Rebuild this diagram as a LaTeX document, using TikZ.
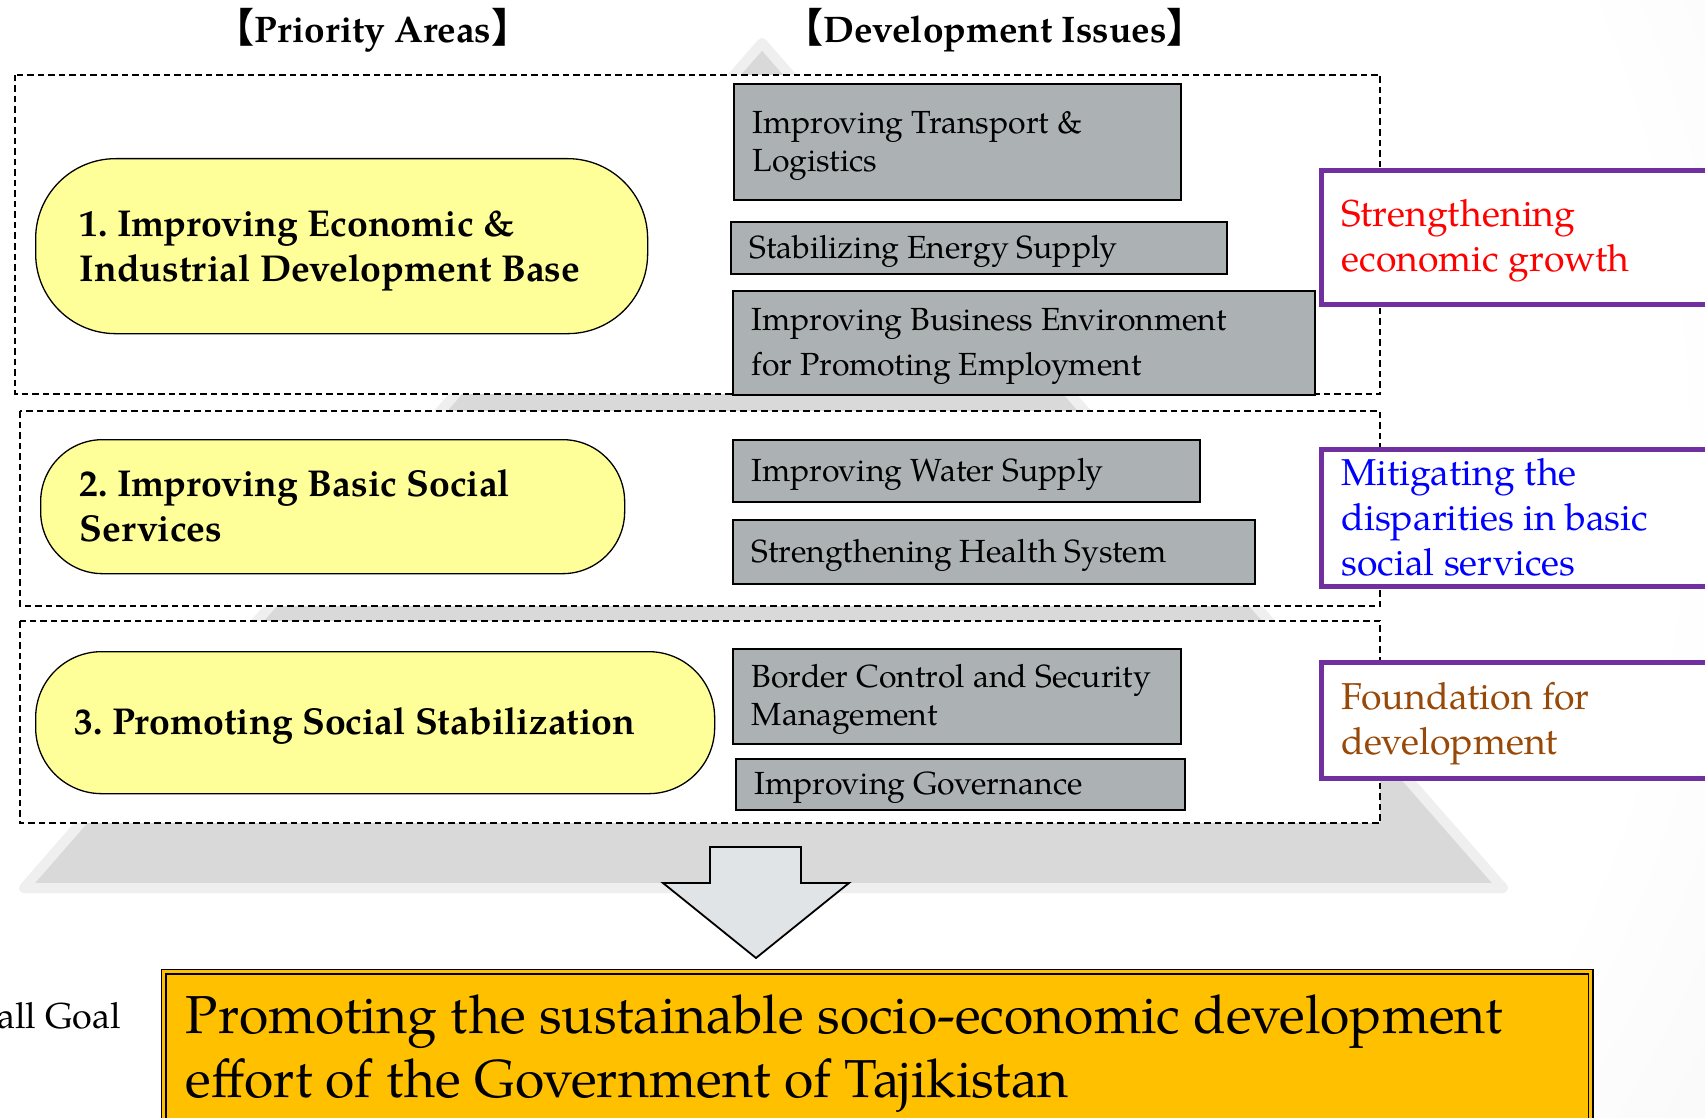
\documentclass[tikz,border=0pt]{standalone}
\usepackage{fontspec}
\setmainfont{TeX Gyre Pagella}
\newfontfamily\cjk{Noto Sans CJK SC}
\definecolor{gbox}{HTML}{ACB1B4}
\definecolor{pyellow}{HTML}{FFFF99}
\definecolor{ppurple}{HTML}{7030A0}
\definecolor{pbrown}{HTML}{984807}
\definecolor{goalc}{HTML}{FFC000}
\definecolor{arrowc}{HTML}{E1E4E6}
\definecolor{pyr}{HTML}{D9D9D9}
\definecolor{pyrhalo}{HTML}{EFEFEF}
\definecolor{bgdark}{HTML}{D4D4D4}
\pgfdeclareradialshading{bgsh}{\pgfpoint{0bp}{0bp}}{color(0bp)=(white); color(20bp)=(white); color(50bp)=(bgdark)}
\newcommand\lift[1][0.92em]{\spaceskip=0.25em plus 0.1em\relax\xspaceskip=0.25em plus 0.1em\relax\rule{0pt}{#1}}
\newcommand\dep{\rule[-0.27em]{0pt}{0pt}}
\newcommand\brk[1]{{\cjk\fontsize{40}{40}\selectfont #1}}
\hyphenpenalty=10000
\exhyphenpenalty=10000
\frenchspacing
\begin{document}
\begin{tikzpicture}[x=1pt,y=-1pt,
  dbox/.style={draw=black, line width=1.7pt, dash pattern=on 6.5pt off 4pt, fill=white},
  pill/.style={draw=black, line width=1.3pt, fill=pyellow, anchor=north west, align=left,
    inner ysep=0pt, font=\fontsize{37.4}{45}\selectfont\bfseries},
  issue/.style={draw=black, line width=1.7pt, fill=gbox, anchor=north west, align=left,
    inner xsep=19pt, inner ysep=0pt, font=\fontsize{32}{38}\selectfont},
  aim/.style={draw=ppurple, line width=5pt, fill=white, anchor=north west, align=left,
    inner xsep=20pt, inner ysep=0pt, minimum width=420pt, text width=380pt,
    font=\fontsize{37.4}{45}\selectfont},
  head/.style={inner sep=0pt, font=\fontsize{37}{40}\selectfont\bfseries},
  goal/.style={draw=black, line width=1.6pt, double=goalc, double distance=3pt, fill=goalc,
    anchor=north west, align=left, inner xsep=22pt, inner ysep=0pt,
    font=\fontsize{53.45}{64}\selectfont}
]
\useasboundingbox (0,0) rectangle (1705,1118);
\begin{scope}
\clip (0,0) rectangle (1705,1118);
% background
\shade[shading=bgsh] (550,450) circle[radius=1400];
% pyramid
\draw[fill=pyr, draw=pyrhalo, line width=10pt, line join=round] (762,43) -- (1503,888) -- (24,888) -- cycle;
% dashed frames
\draw[dbox] (15,75) rectangle (1380,394);
\draw[dbox] (20,411) rectangle (1380,606);
\draw[dbox] (20,621) rectangle (1380,823);
% headings
\node[head] (h1) at (373,30) {\brk{【}Priority Areas\brk{】}};
\node[head] (h2) at (995,30) {\brk{【}Development Issues\brk{】}};
% priority areas
\node[pill, rounded corners=80pt, minimum width=612pt, minimum height=175pt, inner xsep=44pt, text width=524pt] (p1) at (35,158)
  {\lift 1. Improving Economic \&\\Industrial Development Base};
\node[pill, rounded corners=62pt, minimum width=584pt, minimum height=134pt, inner xsep=39pt, text width=506pt] (p2) at (40,439)
  {\lift 2. Improving Basic Social\\Services\dep};
\node[pill, rounded corners=66pt, minimum width=679pt, minimum height=142pt, inner xsep=39pt, text width=601pt] (p3) at (35,651)
  {\lift 3. Promoting Social Stabilization};
% development issues
\node[issue, minimum width=447pt, minimum height=116pt, text width=409pt] (i1) at (733,83)
  {\lift Improving Transport \&\\Logistics};
\node[issue, minimum width=496pt, minimum height=52pt, text width=458pt] (i2) at (730,221)
  {\lift Stabilizing Energy Supply};
\node[issue, minimum width=582pt, minimum height=104pt, text width=544pt, font=\fontsize{32}{45}\selectfont] (i3) at (732,290)
  {\lift Improving Business Environment\\for Promoting Employment};
\node[issue, minimum width=467pt, minimum height=62pt, text width=429pt] (i4) at (732,439)
  {\lift Improving Water Supply};
\node[issue, minimum width=522pt, minimum height=64pt, text width=484pt] (i5) at (732,519)
  {\lift Strengthening Health System};
\node[issue, minimum width=448pt, minimum height=95pt, text width=410pt] (i6) at (732,648)
  {\lift Border Control and Security\\Management};
\node[issue, minimum width=449pt, minimum height=51pt, text width=411pt] (i7) at (735,758)
  {\lift Improving Governance};
% aims
\node[aim, minimum height=134pt, text=red] (a1) at (1319,168)
  {\lift Strengthening\\economic growth};
\node[aim, minimum height=137pt, text=blue] (a2) at (1319,447)
  {\lift Mitigating the\\disparities in basic\\social services\dep};
\node[aim, minimum height=116pt, text=pbrown] (a3) at (1319,660)
  {\lift Foundation for\\development};
% arrow
\draw[fill=arrowc, line width=1.8pt, line join=miter]
  (710,847) -- (801,847) -- (801,883) -- (849,883) -- (756,958) -- (663,883) -- (710,883) -- cycle;
% overall goal
\node[anchor=east, inner sep=0pt, font=\fontsize{36}{40}\selectfont] (og) at (121,1016) {all Goal};
\node[goal, minimum width=1427pt, minimum height=154pt, text width=1383pt] (g) at (163,971)
  {\lift Promoting the sustainable socio-economic development\\effort of the Government of Tajikistan};
\end{scope}
\end{tikzpicture}
\end{document}
